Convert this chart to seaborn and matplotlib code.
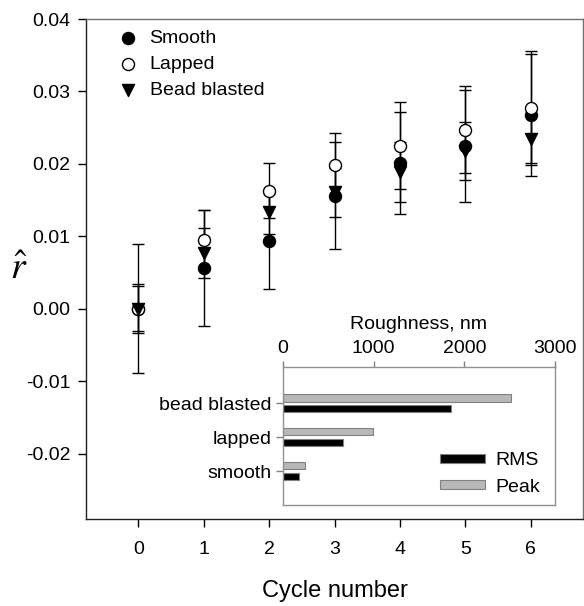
import matplotlib
matplotlib.use("Agg")
import matplotlib.pyplot as plt
import seaborn as sns
import pandas as pd
import numpy as np

# ---------------- data ----------------
cycles = [0, 1, 2, 3, 4, 5, 6]
smooth = [0.0, 0.0056, 0.0094, 0.0156, 0.0201, 0.0225, 0.0268]
smooth_err = [0.0089, 0.0080, 0.0066, 0.0074, 0.0070, 0.0077, 0.0084]
lapped = [0.0, 0.0095, 0.0163, 0.0199, 0.0225, 0.0247, 0.0277]
lapped_err = [0.0034, 0.0041, 0.0038, 0.0043, 0.0060, 0.0060, 0.0079]
bead = [0.0, 0.0077, 0.0133, 0.0161, 0.0189, 0.0218, 0.0234]
bead_err = [0.0031, 0.0035, 0.0030, 0.0034, 0.0041, 0.0040, 0.0033]

x_ticks = [0, 1, 2, 3, 4, 5, 6]
y_ticks = [-0.02, -0.01, 0.00, 0.01, 0.02, 0.03, 0.04]
y_ticklabels = ["-0.02", "-0.01", "0.00", "0.01", "0.02", "0.03", "0.04"]

surfaces = ["bead blasted", "lapped", "smooth"]
rms_nm = [1850, 660, 180]
peak_nm = [2520, 990, 240]
rough_ticks = [0, 1000, 2000, 3000]

# ---------------- style ----------------
sns.set_style("white")
plt.rcParams["font.family"] = ["Liberation Sans", "DejaVu Sans"]
plt.rcParams["mathtext.fontset"] = "stix"
plt.rcParams["text.color"] = "black"
plt.rcParams["axes.labelcolor"] = "black"

FS = 14

fig = plt.figure(figsize=(5.84, 6.06), dpi=100)
ax = fig.add_axes([86 / 584, 87 / 606, 497 / 584, 500 / 606])

series = [
    ("Smooth", smooth, smooth_err, "o", "black"),
    ("Lapped", lapped, lapped_err, "o", "white"),
    ("Bead blasted", bead, bead_err, "v", "black"),
]
for name, vals, errs, mk, fc in series:
    ax.errorbar(cycles, vals, yerr=errs, fmt="none", ecolor="black",
                elinewidth=1.0, capsize=4.6, capthick=1.0, zorder=2)
for name, vals, errs, mk, fc in series:
    sns.scatterplot(x=cycles, y=vals, marker=mk, s=75, color=fc,
                    edgecolor="black", linewidth=1.0, label=name, ax=ax,
                    zorder=3)

ax.set_xlim(-0.8, 6.8)
ax.set_ylim(-0.029, 0.04)
ax.set_xticks(x_ticks)
ax.set_yticks(y_ticks)
ax.set_yticklabels(y_ticklabels)
ax.tick_params(axis="both", direction="out", length=6, width=1,
               labelsize=FS, colors="black", pad=5)
ax.tick_params(axis="x", pad=10)
ax.tick_params(left=True, bottom=True)
ax.set_xlabel("Cycle number", fontsize=17)
ax.xaxis.set_label_coords(0.5, -0.122)
ax.set_ylabel(r"$\hat{r}$", fontsize=27, rotation=0, va="center")
ax.yaxis.set_label_coords(-0.135, 0.5)
for s in ["left", "bottom"]:
    ax.spines[s].set_color("#202020")
for s in ["top", "right"]:
    ax.spines[s].set_color("#707070")
for s in ax.spines.values():
    s.set_linewidth(1.0)

leg = ax.legend(loc="upper left", bbox_to_anchor=(0.03, 0.994), frameon=False,
                fontsize=FS, handletextpad=0.1, labelspacing=0.42,
                borderaxespad=0.0)

# ---------------- inset ----------------
inset = fig.add_axes([283 / 584, 101 / 606, 272 / 584, 138 / 606])
df = pd.DataFrame({
    "surface": surfaces * 2,
    "kind": ["Peak"] * 3 + ["RMS"] * 3,
    "nm": peak_nm + rms_nm,
})
sns.barplot(data=df, y="surface", x="nm", hue="kind", order=surfaces,
            hue_order=["Peak", "RMS"], orient="h", width=0.6, gap=0.3,
            palette={"Peak": "#b8b8b8", "RMS": "black"},
            edgecolor="#808080", linewidth=0.8, ax=inset, zorder=2)
inset.set_xlim(0, 3000)
inset.set_ylim(3.0, -1.06)
inset.set_xticks(rough_ticks)
inset.xaxis.tick_top()
inset.xaxis.set_label_position("top")
inset.set_xlabel("Roughness, nm", fontsize=FS, labelpad=8)
inset.set_ylabel("")
inset.tick_params(axis="x", direction="out", length=4, width=1,
                  labelsize=FS, labelcolor="black", color="#808080",
                  top=True, bottom=False, pad=3)
inset.tick_params(axis="y", direction="out", length=5, width=1,
                  labelsize=FS, labelcolor="black", left=True,
                  color="#808080", pad=3)
for s in inset.spines.values():
    s.set_color("#909090")
    s.set_linewidth(1.0)
inset.set_facecolor("white")

handles, labels = inset.get_legend_handles_labels()
order = [labels.index("RMS"), labels.index("Peak")]
inset.legend([handles[i] for i in order], [labels[i] for i in order],
             loc="lower right", bbox_to_anchor=(0.975, 0.01), frameon=False,
             fontsize=FS, handlelength=2.3, handleheight=0.35,
             handletextpad=0.55, labelspacing=0.5, borderaxespad=0.0)

fig.savefig("out.png", dpi=100)
